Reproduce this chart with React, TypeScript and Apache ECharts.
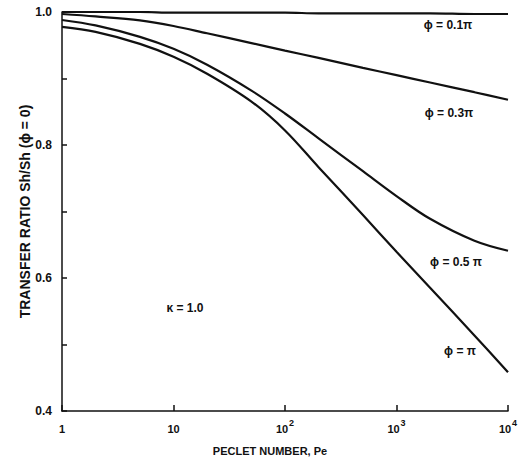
import React, { useEffect, useRef } from "react";
import * as echarts from "echarts";

const pecletNumbers = [1, 2, 5, 10, 20, 50, 100, 200, 500, 1000, 2000, 5000, 10000];
const phi01 = [1.0, 1.0, 1.0, 0.999, 0.999, 0.999, 0.999, 0.998, 0.998, 0.998, 0.998, 0.997, 0.997];
const phi03 = [0.997, 0.9933, 0.9873, 0.979, 0.968, 0.9533, 0.942, 0.931, 0.916, 0.905, 0.894, 0.8794, 0.868];
const phi05 = [0.988, 0.9798, 0.9626, 0.9446, 0.9207, 0.8818, 0.8474, 0.81, 0.7606, 0.7232, 0.689, 0.656, 0.6409];
const phiPi = [0.9776, 0.9701, 0.9521, 0.9327, 0.9072, 0.8653, 0.8219, 0.7666, 0.6947, 0.6394, 0.5855, 0.5137, 0.4583];

const seriesNames = ["ϕ = 0.1π", "ϕ = 0.3π", "ϕ = 0.5 π", "ϕ = π"];
const seriesValues = [phi01, phi03, phi05, phiPi];

const xTickLabels: Record<number, string> = {
  1: "{b|1}",
  10: "{b|10}",
  100: "{b|10}{s|2}",
  1000: "{b|10}{s|3}",
  10000: "{b|10}{s|4}",
};
const yTickLabels = ["0.4", "0.6", "0.8", "1.0"];

const FONT = "Liberation Sans, Arial, sans-serif";

export default function App() {
  const ref = useRef<HTMLDivElement>(null);

  useEffect(() => {
    if (!ref.current) return;
    const chart = echarts.init(ref.current, undefined, { renderer: "svg" });

    const labelStyle = { fontFamily: FONT, fontWeight: "bold" as const, fontSize: 12, fill: "#111" };

    chart.setOption({
      animation: false,
      backgroundColor: "#fff",
      grid: { left: 62, right: 21, top: 12, bottom: 47 },
      xAxis: {
        type: "log",
        logBase: 10,
        min: 1,
        max: 10000,
        name: "PECLET NUMBER, Pe",
        nameLocation: "middle",
        nameGap: 34,
        nameTextStyle: { fontFamily: FONT, fontWeight: "bold", fontSize: 11, color: "#111", padding: [0, 30, 0, 0] },
        axisLine: { lineStyle: { color: "#111", width: 1.5 } },
        axisTick: { inside: true, length: 6, lineStyle: { color: "#111", width: 1.5 } },
        axisLabel: {
          margin: 7,
          fontFamily: FONT,
          fontWeight: "bold",
          fontSize: 11,
          color: "#111",
          formatter: (v: number) => xTickLabels[Math.round(v)] ?? "",
          rich: {
            b: { fontFamily: FONT, fontWeight: "bold", fontSize: 11, color: "#111", lineHeight: 16, verticalAlign: "bottom" },
            s: { fontFamily: FONT, fontWeight: "bold", fontSize: 9, color: "#111", lineHeight: 16, verticalAlign: "top", padding: [0, 0, 0, 1] },
          },
        },
        splitLine: { show: false },
        minorTick: { show: false },
      },
      yAxis: {
        type: "value",
        min: 0.4,
        max: 1.0,
        interval: 0.1,
        name: "TRANSFER RATIO Sh/Sh (ϕ = 0)",
        nameLocation: "middle",
        nameGap: 30,
        nameMoveOverlap: false,
        nameTextStyle: { fontFamily: FONT, fontWeight: "bold", fontSize: 14, color: "#111" },
        axisLine: { show: true, lineStyle: { color: "#111", width: 1.5 } },
        axisTick: { show: true, inside: true, length: 5, lineStyle: { color: "#111", width: 1.5 } },
        axisLabel: {
          margin: 10,
          fontFamily: FONT,
          fontWeight: "bold",
          fontSize: 12,
          color: "#111",
          formatter: (v: number) => {
            const s = v.toFixed(1);
            return yTickLabels.includes(s) ? s : "";
          },
        },
        splitLine: { show: false },
      },
      series: seriesValues.map((vals, i) => ({
        name: seriesNames[i],
        type: "line",
        smooth: 0.35,
        symbol: "none",
        lineStyle: { color: "#111", width: 2.2 },
        data: pecletNumbers.map((p, j) => [p, vals[j]]),
      })),
      graphic: [
        { type: "text", x: 448, y: 25, style: { ...labelStyle, text: seriesNames[0], textAlign: "center", textVerticalAlign: "middle" } },
        { type: "text", x: 449, y: 113, style: { ...labelStyle, text: seriesNames[1], textAlign: "center", textVerticalAlign: "middle" } },
        { type: "text", x: 456, y: 262, style: { ...labelStyle, text: seriesNames[2], textAlign: "center", textVerticalAlign: "middle" } },
        { type: "text", x: 460, y: 351, style: { ...labelStyle, text: seriesNames[3], textAlign: "center", textVerticalAlign: "middle" } },
        { type: "text", x: 185, y: 308, style: { ...labelStyle, text: "κ = 1.0", textAlign: "center", textVerticalAlign: "middle" } },
      ],
    });

    return () => chart.dispose();
  }, []);

  return <div ref={ref} style={{ position: "fixed", left: 0, top: 0, width: 529, height: 461 }} />;
}
